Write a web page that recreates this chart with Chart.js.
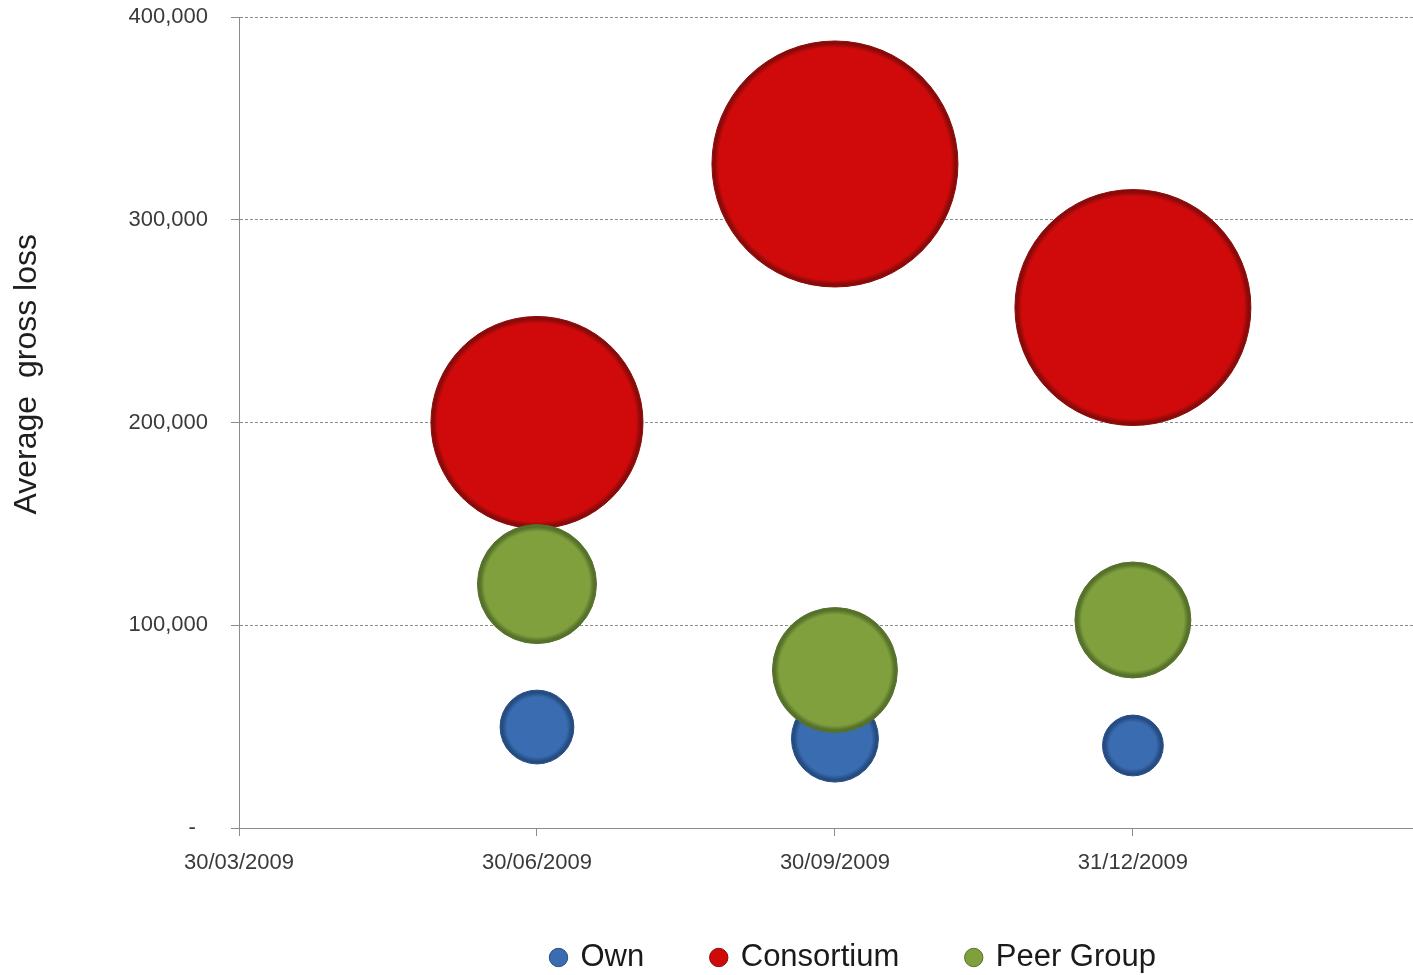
<!DOCTYPE html>
<html>
<head>
<meta charset="utf-8">
<script src="https://cdn.jsdelivr.net/npm/chart.js@4.4.1/dist/chart.umd.min.js"></script>
<style>
  html, body { margin: 0; padding: 0; background: #ffffff; }
  #wrap { width: 1413px; height: 975px; position: relative; }
</style>
</head>
<body>
<div id="wrap"><canvas id="c"></canvas></div>
<script>
// ---- data ----
const quarterLabels = ['30/03/2009', '30/06/2009', '30/09/2009', '31/12/2009'];
const bubbleQuarters = [1, 2, 3];
const seriesNames = ['Own', 'Consortium', 'Peer Group'];
const ownLoss = [49800, 44100, 40700];
const consortiumLoss = [200000, 327500, 256700];
const peerLoss = [120300, 77900, 102600];
const ownSize = [90, 125, 61];
const consortiumSize = [743, 1000, 920];
const peerSize = [234, 258, 222];
const yTicks = [0, 100000, 200000, 300000, 400000];
const yAxisTitle = 'Average  gross loss';

// ---- styling ----
const palette = [
  { base: '#3A6CB1', rim: '#254C82' },
  { base: '#D00A0A', rim: '#8A0A0A' },
  { base: '#7FA03D', rim: '#56712A' }
];
const maxSize = Math.max(...ownSize, ...consortiumSize, ...peerSize);
const MAX_RADIUS_PX = 123;

function radiusFor(size) {
  return MAX_RADIUS_PX * Math.sqrt(size / maxSize);
}

function makePoints(values, sizes) {
  return values.map((v, i) => ({ x: bubbleQuarters[i], y: v, size: sizes[i] }));
}

function bubbleFill(seriesIdx) {
  const col = palette[seriesIdx];
  return (ctx) => {
    const chart = ctx.chart;
    if (ctx.type !== 'data' || !chart.chartArea || !ctx.raw) return col.base;
    const px = chart.scales.x.getPixelForValue(ctx.raw.x);
    const py = chart.scales.y.getPixelForValue(ctx.raw.y);
    const r = radiusFor(ctx.raw.size);
    if (!isFinite(px) || !isFinite(py) || r <= 0) return col.base;
    const g = chart.ctx.createRadialGradient(px, py, 0, px, py, r);
    g.addColorStop(0, col.base);
    g.addColorStop(Math.max(0.5, 1 - 7 / r), col.base);
    g.addColorStop(Math.max(0.6, 1 - 2.5 / r), col.rim);
    g.addColorStop(1, col.rim);
    return g;
  };
}

function makeDataset(idx, values, sizes, order) {
  return {
    label: seriesNames[idx],
    data: makePoints(values, sizes),
    backgroundColor: bubbleFill(idx),
    borderColor: palette[idx].rim,
    borderWidth: 1,
    hoverBorderWidth: 1,
    radius: (ctx) => (ctx.raw ? radiusFor(ctx.raw.size) : 3),
    hoverRadius: 0,
    order: order
  };
}

const gridGray = '#8C8C8C';
const fontFamily = '"Liberation Sans", Arial, sans-serif';

const yTitlePlugin = {
  id: 'yTitle',
  afterDraw(chart) {
    const a = chart.chartArea;
    const c = chart.ctx;
    c.save();
    c.translate(27, a.top + (a.bottom - a.top) * 0.4405);
    c.rotate(-Math.PI / 2);
    c.font = '32px ' + fontFamily;
    c.fillStyle = '#1E1E1E';
    c.textAlign = 'center';
    c.textBaseline = 'middle';
    c.fillText(yAxisTitle, 0, 0);
    c.restore();
  }
};

const legendShiftPlugin = {
  id: 'legendShift',
  afterLayout(chart) {
    const lg = chart.legend;
    if (lg) { lg.left += 28; lg.right += 28; }
  }
};

new Chart(document.getElementById('c'), {
  type: 'bubble',
  data: {
    datasets: [
      makeDataset(0, ownLoss, ownSize, 3),
      makeDataset(1, consortiumLoss, consortiumSize, 2),
      makeDataset(2, peerLoss, peerSize, 1)
    ]
  },
  options: {
    responsive: true,
    maintainAspectRatio: false,
    animation: false,
    events: [],
    layout: { autoPadding: false, padding: { top: 17, right: 0, left: 0, bottom: -8 } },
    scales: {
      x: {
        type: 'linear',
        min: 0,
        max: 3.94,
        afterBuildTicks: (scale) => {
          scale.ticks = quarterLabels.map((_, i) => ({ value: i }));
        },
        afterFit: (scale) => { scale.height = 46; },
        ticks: {
          autoSkip: false,
          maxRotation: 0,
          padding: 14,
          color: '#3A3A3A',
          font: { family: fontFamily, size: 22 },
          callback: (v) => quarterLabels[v] ?? ''
        },
        grid: {
          drawOnChartArea: false,
          drawTicks: true,
          tickLength: 8,
          color: gridGray,
          tickColor: gridGray
        },
        border: { color: gridGray, width: 1 }
      },
      y: {
        min: 0,
        max: 400000,
        afterBuildTicks: (scale) => {
          scale.ticks = yTicks.map((v) => ({ value: v }));
        },
        afterFit: (scale) => {
          scale.width = 239;
          scale.paddingTop = 13;
          scale.paddingBottom = 13;
        },
        ticks: {
          padding: 23,
          color: '#3A3A3A',
          font: { family: fontFamily, size: 22 },
          callback: (v) => (v === 0 ? '-  ' : v.toLocaleString('en-US'))
        },
        grid: {
          drawOnChartArea: true,
          drawTicks: true,
          tickLength: 8,
          color: gridGray,
          tickColor: gridGray,
          lineWidth: 1
        },
        border: { color: gridGray, width: 1, dash: [3, 2] }
      }
    },
    plugins: {
      tooltip: { enabled: false },
      title: { display: false },
      legend: {
        display: true,
        position: 'bottom',
        fullSize: false,
        labels: {
          usePointStyle: true,
          pointStyle: 'circle',
          boxWidth: 13,
          boxHeight: 13,
          padding: 68,
          color: '#1A1A1A',
          font: { family: fontFamily, size: 31 },
          sort: (a, b) => a.datasetIndex - b.datasetIndex,
          generateLabels: (chart) => {
            const items = Chart.defaults.plugins.legend.labels.generateLabels(chart);
            items.forEach((it) => {
              const col = palette[it.datasetIndex];
              it.fillStyle = col.base;
              it.strokeStyle = col.rim;
              it.lineWidth = 1;
            });
            return items;
          }
        }
      }
    }
  },
  plugins: [yTitlePlugin, legendShiftPlugin]
});
</script>
</body>
</html>
